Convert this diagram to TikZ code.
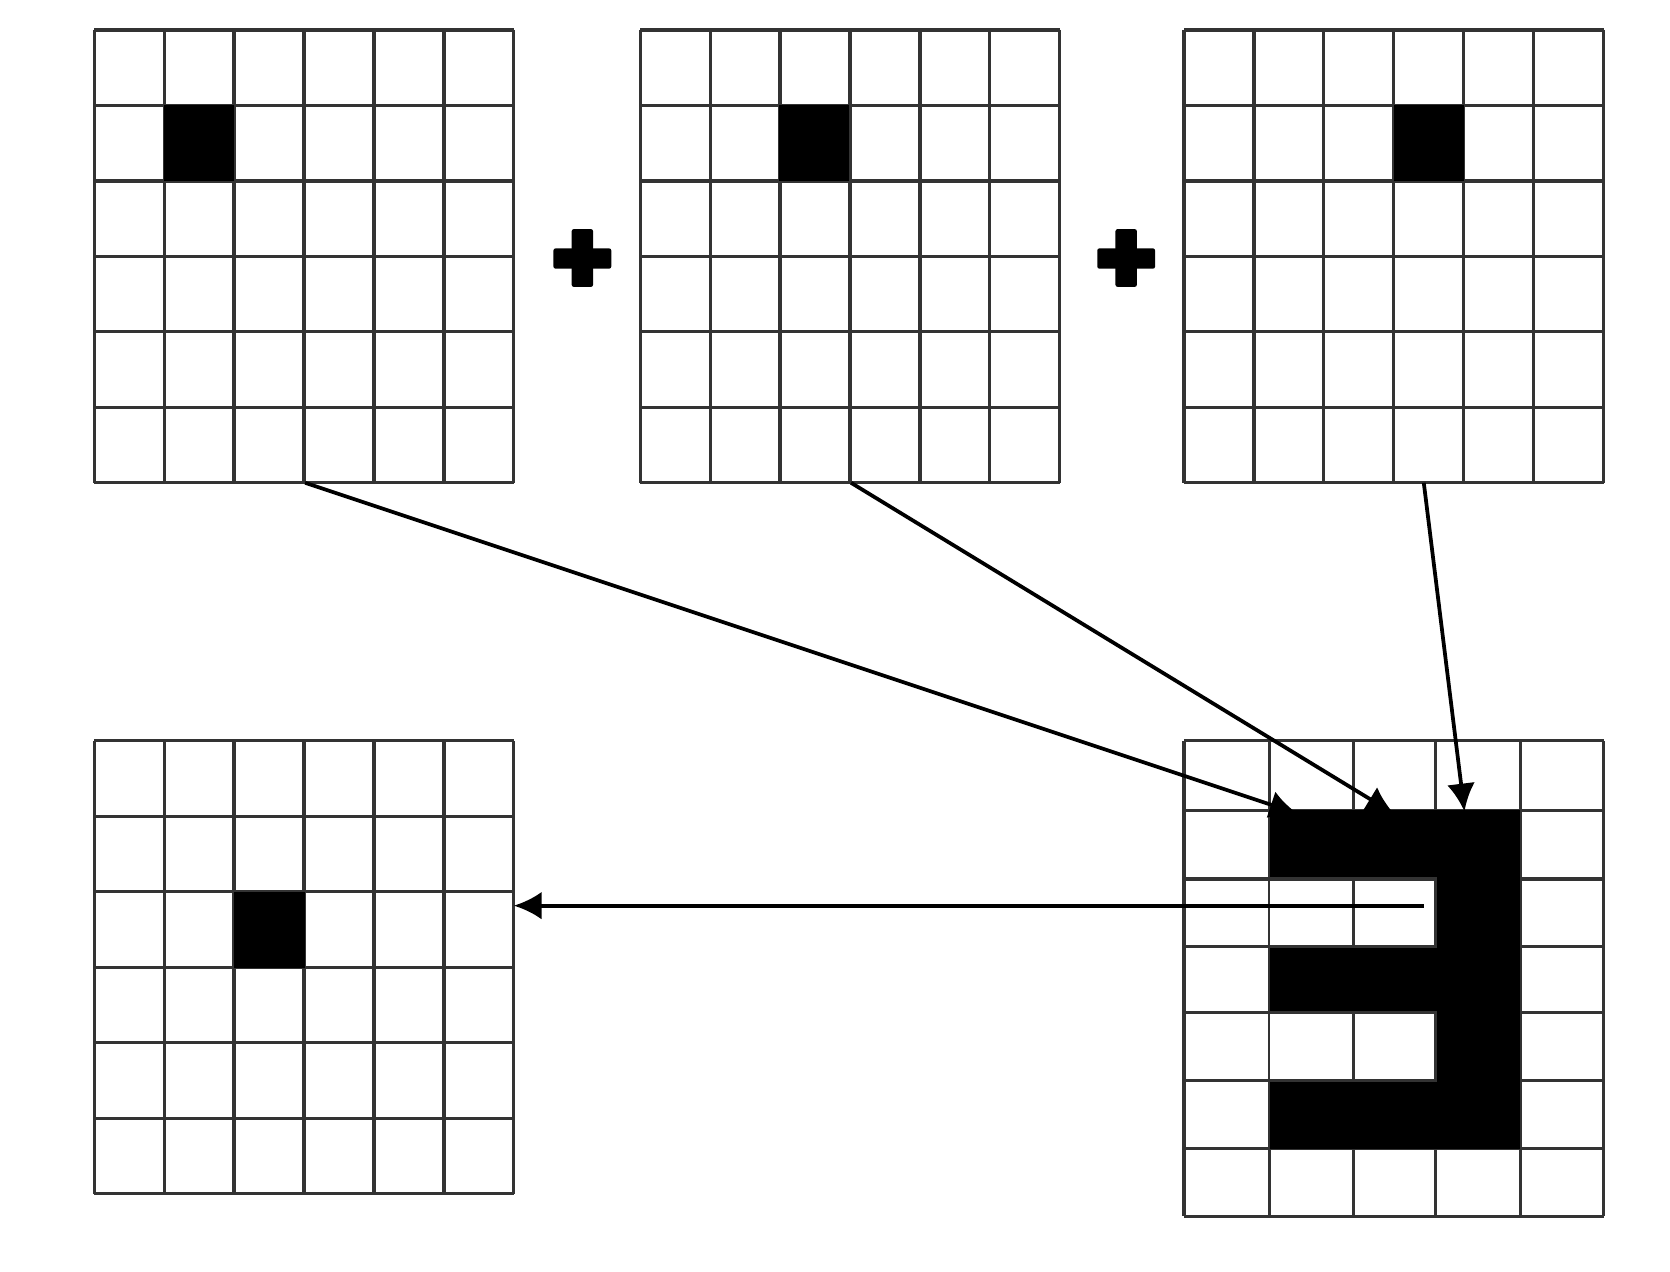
\documentclass[tikz,border=0pt]{standalone}
\usetikzlibrary{arrows.meta}
\begin{document}
\begin{tikzpicture}[x=1pt,y=-1pt,
  gl/.style={draw=black!80,line width=3pt},
  arr/.style={line width=3.5pt,-{Latex[length=26pt,width=26pt]}}]
\useasboundingbox (0,0) rectangle (1560,1188);
% 6x6 grids
\foreach \x/\y/\n in {88/28/ga,598/28/gb,1106/28/gc,88/692/gd}{
  \foreach \i in {0,...,6}{
    \draw[gl] ({\x+\i*392/6},\y) -- ({\x+\i*392/6},{\y+423});
    \draw[gl] (\x,{\y+\i*423/6}) -- ({\x+392},{\y+\i*423/6});
  }
  \node[minimum width=392pt,minimum height=423pt,inner sep=0,anchor=north west] (\n) at (\x,\y) {};
}
% 5x7 grid
\foreach \xx in {1106,1186,1264,1341,1420,1498}{\draw[gl] (\xx,692) -- (\xx,1136);}
\foreach \yy in {692,757,821,884,946,1009,1073,1136}{\draw[gl] (1106,\yy) -- (1498,\yy);}
\node[minimum width=392pt,minimum height=444pt,inner sep=0,anchor=north west] (ge) at (1106,692) {};
% black cells
\fill (153,98) rectangle (219,169);
\fill (728,98) rectangle (793,169);
\fill (1302,98) rectangle (1368,169);
\fill (219,833) rectangle (285,904);
\fill (1186,757) rectangle (1420,1073);
\fill[white] (1186,821) rectangle (1341,884);
\fill[white] (1186,946) rectangle (1341,1009);
\draw[gl] (1186,821) -- (1341,821) -- (1341,884) -- (1186,884);
\draw[gl] (1264,821) -- (1264,884);
\draw[gl] (1186,946) -- (1341,946) -- (1341,1009) -- (1186,1009);
\draw[gl] (1264,946) -- (1264,1009);
% plus signs
\foreach \px/\n in {544/p1,1052/p2}{
  \node (\n) at (\px,241) {};
  \fill[rounded corners=2pt] (\px-27,232) rectangle (\px+27,251);
  \fill[rounded corners=2pt] (\px-10,214) rectangle (\px+10,268);
}
% connectors
\coordinate (a1) at (285,451); \coordinate (a2) at (1212,760);
\coordinate (b1) at (795,451); \coordinate (b2) at (1302,760);
\coordinate (c1) at (1330,451); \coordinate (c2) at (1368,758);
\coordinate (d1) at (1330,846); \coordinate (d2) at (480,846);
\draw[arr] (a1) -- (a2);
\draw[arr] (b1) -- (b2);
\draw[arr] (c1) -- (c2);
\draw[arr] (d1) -- (d2);
\end{tikzpicture}
\end{document}
